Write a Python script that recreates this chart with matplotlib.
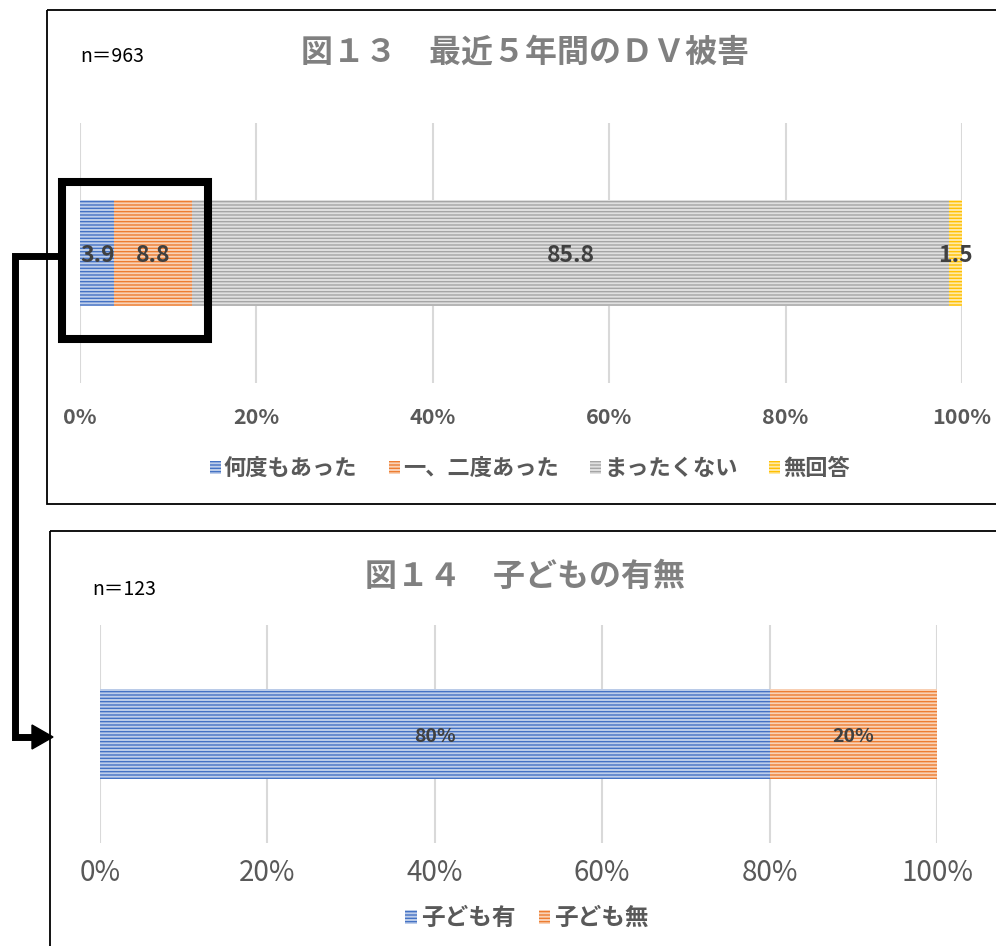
import matplotlib.pyplot as plt
from matplotlib.patches import Rectangle, Polygon
from matplotlib.colors import to_rgb

plt.rcParams['font.family'] = ['Noto Sans CJK JP', 'DejaVu Sans']
plt.rcParams['hatch.linewidth'] = 1.0

# Data - figure 13
dv_labels = ["何度もあった", "一、二度あった", "まったくない", "無回答"]
dv_values = [3.9, 8.8, 85.8, 1.5]
dv_colors = ["#4472C4", "#ED7D31", "#A5A5A5", "#FFC000"]

# Data - figure 14
child_labels = ["子ども有", "子ども無"]
child_values = [80, 20]
child_colors = ["#4472C4", "#ED7D31"]

ticks = [0, 20, 40, 60, 80, 100]
W, H = 996, 946


def light(c, a=0.35):
    r, g, b = to_rgb(c)
    return (1 - a + a * r, 1 - a + a * g, 1 - a + a * b)


def px_axes(fig, l, t, r, b):
    return fig.add_axes([l / W, 1 - b / H, (r - l) / W, (b - t) / H])


def stacked(ax, labels, values, colors, fmt, lab_size):
    left = 0
    for lab, v, c in zip(labels, values, colors):
        ax.barh(0, v, left=left, height=0.41, color=light(c), edgecolor=c,
                linewidth=0, hatch='-----', label=lab, zorder=2)
        ax.text(left + v / 2, -0.01, fmt(v), ha='center', va='center',
                fontsize=lab_size, fontweight='bold', color='#404040', zorder=3)
        left += v
    ax.set_xlim(0, 100)
    ax.set_ylim(-0.5, 0.5)
    ax.set_yticks([])
    ax.set_xticks(ticks)
    ax.set_xticklabels([f"{t}%" for t in ticks])
    ax.grid(axis='x', color='#D9D9D9', linewidth=1.5, zorder=0)
    ax.set_axisbelow(True)
    for s in ax.spines.values():
        s.set_visible(False)
    ax.tick_params(axis='x', length=0, colors='#595959')


fig = plt.figure(figsize=(W / 100, H / 100), dpi=100)

# top chart
ax1 = px_axes(fig, 80, 123, 962, 383)
stacked(ax1, dv_labels, dv_values, dv_colors, lambda v: f"{v:.1f}", 16.5)
ax1.tick_params(axis='x', labelsize=15.5, pad=17)
for t in ax1.get_xticklabels():
    t.set_fontweight('bold')
leg1 = ax1.legend(loc='center', bbox_to_anchor=(0.51, -0.33), ncol=4, frameon=False,
                  fontsize=16, handlelength=0.5, handleheight=0.5,
                  handletextpad=0.15, columnspacing=1.4)
for t in leg1.get_texts():
    t.set_color('#595959')
    t.set_fontweight('bold')

# bottom chart
ax2 = px_axes(fig, 100, 625, 937, 843)
stacked(ax2, child_labels, child_values, child_colors, lambda v: f"{v}%", 14)
ax2.tick_params(axis='x', labelsize=20, pad=11)
leg2 = ax2.legend(loc='center', bbox_to_anchor=(0.51, -0.345), ncol=2, frameon=False,
                  fontsize=17, handlelength=0.5, handleheight=0.5,
                  handletextpad=0.15, columnspacing=1.0)
for t in leg2.get_texts():
    t.set_color('#595959')
    t.set_fontweight('bold')

# overlay for frames, titles and highlight arrow
ov = fig.add_axes([0, 0, 1, 1], zorder=10)
ov.set_xlim(0, W)
ov.set_ylim(H, 0)
ov.axis('off')
ov.patch.set_alpha(0)

ov.add_patch(Rectangle((47, 10), 1000, 494, fill=False, edgecolor='black', linewidth=1.3))
ov.add_patch(Rectangle((50, 531), 1000, 500, fill=False, edgecolor='black', linewidth=1.3))

ov.text(525, 53, "図１３　最近５年間のＤＶ被害", ha='center', va='center',
        fontsize=23, fontweight='bold', color='#808080')
ov.text(525, 577, "図１４　子どもの有無", ha='center', va='center',
        fontsize=23, fontweight='bold', color='#808080')
ov.text(80, 57, "n＝963", ha='left', va='center', fontsize=14, color='black')
ov.text(92, 589, "n＝123", ha='left', va='center', fontsize=14, color='black')

ov.add_patch(Rectangle((62, 182), 146, 157, fill=False, edgecolor='black', linewidth=5.8))
ov.plot([58, 15, 15, 34], [256, 256, 737, 737], color='black', linewidth=5,
        solid_joinstyle='miter', solid_capstyle='butt')
ov.add_patch(Polygon([[32, 725], [53, 737], [32, 749]], closed=True, color='black'))

fig.savefig("out.png", dpi=100)
